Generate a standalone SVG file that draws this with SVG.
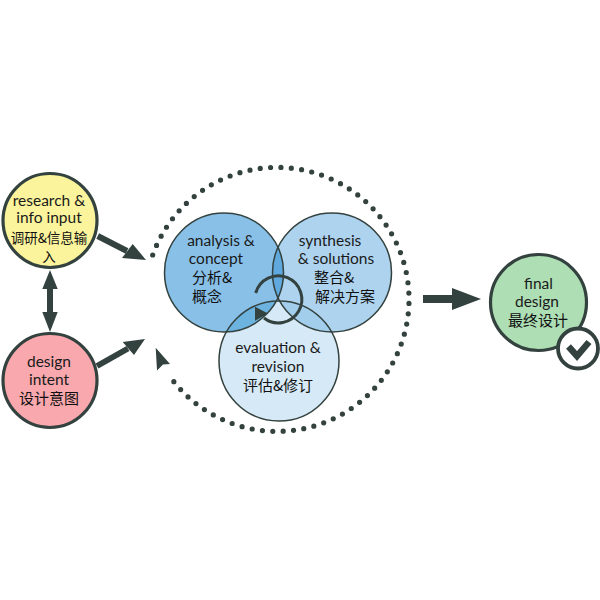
<svg xmlns="http://www.w3.org/2000/svg" width="600" height="600" viewBox="0 0 600 600">
<style>
.n{stroke:#33423f;stroke-width:3.2}
.v{stroke:#33423f;stroke-width:1.5}
.t{font-family:"Lato","Noto Sans CJK SC",sans-serif;font-size:15.5px;font-weight:400;fill:#1a1a1a;text-anchor:middle}
.c{font-family:"Noto Sans CJK SC",sans-serif;font-size:15px;font-weight:400;fill:#111;text-anchor:middle}
.s{font-size:13.5px}
.a{stroke:#33423f;stroke-width:6;fill:none}
.h{fill:#33423f}
</style>
<defs>
<clipPath id="ca"><circle cx="224" cy="272.5" r="59.5"/></clipPath>
<clipPath id="cs"><circle cx="332" cy="272.5" r="59.5"/></clipPath>
</defs>
<rect width="600" height="600" fill="#fff"/>
<g id="analysis"><circle cx="224" cy="272.5" r="59.5" fill="#88c0e8"/></g>
<g id="synthesis"><circle cx="332" cy="272.5" r="59.5" fill="#aed3ee"/></g>
<g id="evaluation"><circle cx="279" cy="361" r="60" fill="#d6e9f6"/></g>
<g id="overlaps">
<g clip-path="url(#ca)"><circle cx="332" cy="272.5" r="59.5" fill="#5fa9de"/><circle cx="279" cy="361" r="60" fill="#6cb3e0"/></g>
<g clip-path="url(#cs)"><circle cx="279" cy="361" r="60" fill="#a2cdeb"/></g>
<g clip-path="url(#ca)"><g clip-path="url(#cs)"><circle cx="279" cy="361" r="60" fill="#d6e9f6"/></g></g>
<g fill="none" class="v"><circle cx="224" cy="272.5" r="59.5"/><circle cx="332" cy="272.5" r="59.5"/><circle cx="279" cy="361" r="60"/></g>
</g>
<g id="connectors">
<path d="M152.7 255A132 132 0 1 1 171 378" fill="none" stroke="#33423f" stroke-width="5.2" stroke-linecap="round" stroke-dasharray="0 10.37"/>
<polygon class="h" points="155.7,347.7 170,364 163,364.5 157,370.5"/>
<path d="M97.7 236L127 251" class="a"/><polygon class="h" points="146,260 132.7,244 122,258"/>
<path d="M97 366L128 348.5" class="a"/><polygon class="h" points="145,339 122.7,342 134,355"/>
<path d="M50 285V316" class="a"/><polygon class="h" points="50,270 42.3,289 57.7,289"/><polygon class="h" points="50,332 42.3,312 57.7,312"/>
<path d="M423 299H453" fill="none" stroke="#33423f" stroke-width="8"/><polygon class="h" points="481,299 452,288 452,310"/>
<path d="M255.7 293A23.5 23.5 0 1 1 264 318" fill="none" stroke="#33423f" stroke-width="3"/>
<polygon class="h" points="255,306.7 255,320.7 268,313.5"/>
</g>
<g id="research"><circle class="n" cx="50" cy="220.5" r="47" fill="#fbf49c"/>
<text class="t" x="49" y="206">research &amp;</text><text class="t" x="49" y="223">info input</text>
<text class="c s" x="49" y="243">调研&amp;信息输</text><text class="c s" x="49" y="262">入</text></g>
<g id="intent"><circle class="n" cx="50" cy="380.5" r="47" fill="#f9a8ad"/>
<text class="t" x="49" y="367">design</text><text class="t" x="49" y="385">intent</text><text class="c" x="49" y="404">设计意图</text></g>
<g id="analysis-label"><text class="t" x="221" y="246">analysis &amp;</text><text class="t" x="216" y="264">concept</text>
<text class="c" x="212" y="283">分析&amp;</text><text class="c" x="207" y="302">概念</text></g>
<g id="synthesis-label"><text class="t" x="330" y="246">synthesis</text><text class="t" x="336" y="264">&amp; solutions</text>
<text class="c" x="334" y="283">整合&amp;</text><text class="c" x="345" y="302">解决方案</text></g>
<g id="evaluation-label"><text class="t" x="278" y="353">evaluation &amp;</text><text class="t" x="278" y="372">revision</text><text class="c" x="278" y="391">评估&amp;修订</text></g>
<g id="final"><circle class="n" cx="538.5" cy="302.5" r="48" fill="#aedeb4"/>
<text class="t" x="538.5" y="289">final</text><text class="t" x="537" y="307">design</text><text class="c" x="538" y="326">最终设计</text></g>
<g id="check"><circle cx="578" cy="348.5" r="20" fill="#fff" stroke="#33423f" stroke-width="3.8"/>
<path d="M568.5 346.5L577 356L589 342" fill="none" stroke="#33423f" stroke-width="6.5"/></g>
</svg>
